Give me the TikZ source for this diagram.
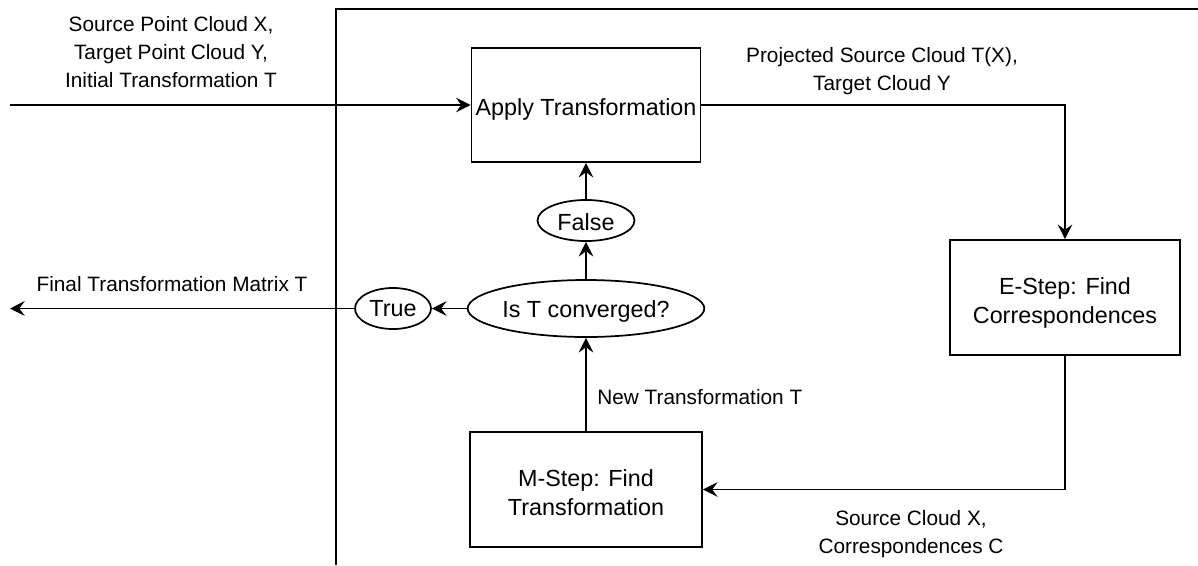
\documentclass[tikz,border=0pt]{standalone}
\usepackage{fontspec}
\setmainfont{Liberation Sans}
\usetikzlibrary{arrows.meta,shapes.geometric}

% text lowered inside its shape, keeping the shape's own size and centre
\newcommand{\lowtext}[2]{\raisebox{-#1}[\height][\depth]{\begin{tabular}{@{}c@{}}#2\end{tabular}}}

\tikzset{
  flow/.style={line width=1.3pt, -{Stealth[length=11pt,width=11pt,inset=4pt]}},
  plain/.style={line width=1.3pt},
  stepbox/.style={draw, line width=1.3pt, rectangle, inner sep=0pt,
    font=\fontsize{17.5}{21.75}\selectfont},
  decision/.style={draw, line width=1.3pt, ellipse, inner sep=0pt,
    font=\fontsize{17.5}{21.75}\selectfont},
  edgetext/.style={align=center, inner sep=0pt, font=\fontsize{15.6}{21}\selectfont},
}

\begin{document}
\begin{tikzpicture}[x=0.75pt, y=-0.75pt]
  \useasboundingbox (0,0) rectangle (1198,565);

  % outer frame of the iteration loop
  \draw[plain] (336,565) -- (336,9) -- (1198,9);

  % process steps
  \node[stepbox, minimum width=171.75pt, minimum height=85.5pt] (apply) at (586,105) {\lowtext{3.2pt}{Apply Transformation}};
  \node[stepbox, minimum width=172.5pt, minimum height=86.25pt] (estep) at (1065,297.5) {\lowtext{4.6pt}{E-Step: Find\\Correspondences}};
  \node[stepbox, minimum width=174pt, minimum height=86.25pt] (mstep) at (586,489.5) {\lowtext{4.2pt}{M-Step: Find\\Transformation}};

  % convergence test and its outcomes
  \node[decision, minimum width=173.25pt, minimum height=42.75pt] (conv) at (586,308.5) {\lowtext{2.7pt}{Is T converged?}};
  \node[decision, minimum width=72.75pt, minimum height=29.25pt] (false) at (586,220.5) {\lowtext{2.8pt}{False}};
  \node[decision, minimum width=57pt, minimum height=30pt] (true) at (393,308.5) {\lowtext{2pt}{True}};

  % loose ends of the input and output arrows
  \coordinate (inpt) at (10,105);
  \coordinate (outpt) at (10,308.5);

  % connectors
  \draw[flow] (inpt) -- (apply.west);
  \draw[flow] (apply.east) -| (estep.north);
  \draw[flow] (estep.south) |- (mstep.east);
  \draw[flow] (mstep.north) -- (conv.south);
  \draw[flow] (conv.north) -- (false.south);
  \draw[flow] (false.north) -- (apply.south);
  \draw[flow] (conv.west) -- (true.east);
  \draw[flow] (true.west) -- (outpt);

  % connector labels
  \node[edgetext] (lin) at (171,52) {Source Point Cloud X,\\Target Point Cloud Y,\\Initial Transformation T};
  \node[edgetext] (lout) at (172,284) {Final Transformation Matrix T};
  \node[edgetext] (lproj) at (882,71.5) {Projected Source Cloud T(X),\\Target Cloud Y};
  \node[edgetext, anchor=west] (lnew) at (597,397) {New Transformation T};
  \node[edgetext] (lcorr) at (911,534) {Source Cloud X,\\Correspondences C};
\end{tikzpicture}
\end{document}
